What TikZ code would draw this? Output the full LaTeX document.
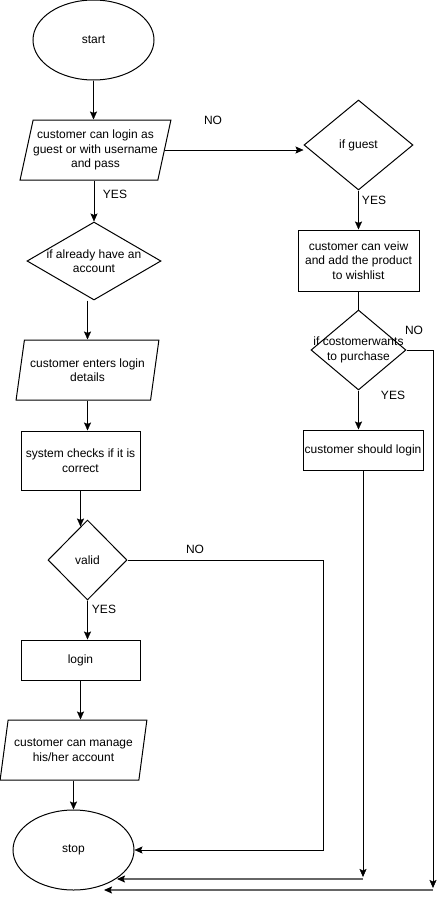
\documentclass[tikz,border=0pt]{standalone}
\usepackage{fontspec}
\setmainfont{Liberation Sans}
\usetikzlibrary{shapes.geometric,arrows.meta,calc}
\pgfdeclarelayer{bg}
\pgfsetlayers{bg,main}

\begin{document}
\begin{tikzpicture}[x=1pt, y=-1pt, line width=1pt,
    font=\fontsize{12}{14.5}\selectfont,
    terminal/.style={draw, ellipse, minimum width=121pt, minimum height=80pt, inner sep=0pt},
    io/.style={draw, trapezium, trapezium left angle=72, trapezium right angle=108,
        trapezium stretches=true, align=center, inner sep=0pt},
    process/.style={draw, rectangle, align=center, inner sep=0pt},
    decision/.style={draw, diamond, inner sep=0pt},
    flow/.style={-{Stealth[length=8pt, width=7pt, inset=1.5pt, color=black]}},
    back/.style={draw=black!60, line width=1.4pt}]
    \useasboundingbox (0,0) rectangle (443,900);

    \node (start) [terminal] at (93.5,40) {start};
    \node (choice) [io, minimum width=151pt, minimum height=60pt] at (95.5,150) {customer can login as\\guest or with username\\and pass};
    \node (acct) [decision, minimum width=134pt, minimum height=78pt,
        label={[align=center]center:{if already have an\\account}}] at (94,261) {};
    \node (details) [io, minimum width=143pt, minimum height=60pt] at (87.5,370) {customer enters login\\details};
    \node (check) [process, minimum width=119pt, minimum height=59pt] at (80.5,460.5) {system checks if it is\\correct};
    \node (valid) [decision, minimum width=79pt, minimum height=80pt] at (87.5,560) {valid};
    \node (login) [process, minimum width=119pt, minimum height=40pt] at (80.5,660) {login};
    \node (manage) [io, minimum width=147pt, minimum height=60pt] at (73.5,750) {customer can manage\\his/her account};
    \node (stop) [terminal] at (73.5,850) {stop};

    \node (guest) [decision, minimum width=109pt, minimum height=90pt] at (358.5,145) {if guest};
    \node (wish) [process, minimum width=121pt, minimum height=61pt] at (358.5,260.5) {customer can veiw\\and add the product\\to wishlist};
    \node (buy) [decision, minimum width=95pt, minimum height=80pt,
        label={[align=center]center:{if costomerwants\\to purchase}}] at (358.5,350) {};
    \node (mustlogin) [process, minimum width=120pt, minimum height=40pt] at (363,450) {customer should login};

    \node (yesChoice) at (115,194) {YES};
    \node (noChoice) at (213,120) {NO};
    \node (yesGuest) at (374,200) {YES};
    \node (noBuy) at (414,330) {NO};
    \node (yesBuy) at (393,395) {YES};
    \node (noValid) at (195,549) {NO};
    \node (yesValid) at (104,609) {YES};

    \coordinate (validTurn) at (323,850);
    \coordinate (loginDrop) at (363,877);
    \coordinate (loginBack) at (363,879);
    \coordinate (loginEnd) at (117,879);
    \coordinate (buyDrop) at (433,888);
    \coordinate (buyBack) at (433,890);
    \coordinate (buyEnd) at (104,890);

    \begin{pgfonlayer}{bg}
        \draw[flow] (start.south) -- (start.south |- choice.north);
        \draw[flow] (acct.north |- choice.south) -- (acct.north);
        \draw[flow] (choice.east) -- (choice.east -| guest.west);
        \draw[flow] (details.north |- acct.south) -- (details.north);
        \draw[flow] (details.south) -- (details.south |- check.north);
        \draw[flow] (check.south) -- ($(check.south |- valid.north)+(0,7)$);
        \draw[flow] (valid.south) -- (valid.south |- login.north);
        \draw[flow] (login.south) -- (login.south |- manage.north);
        \draw[flow] (manage.south -| stop.north) -- (stop.north);
        \draw[flow] (valid.east) -| (validTurn) -- (stop.east);
        \draw[flow] (guest.south) -- (wish.north);
        \draw (wish.south) -- (buy.north);
        \draw[flow] (buy.south) -- (buy.south |- mustlogin.north);
        \draw[flow] (buy.east) -| (buyDrop);
        \draw[flow, back] (buyBack) -- (buyEnd);
        \draw[flow] (mustlogin.south) -- (loginDrop);
        \draw[flow, back] (loginBack) -- (loginEnd);
    \end{pgfonlayer}
\end{tikzpicture}
\end{document}
